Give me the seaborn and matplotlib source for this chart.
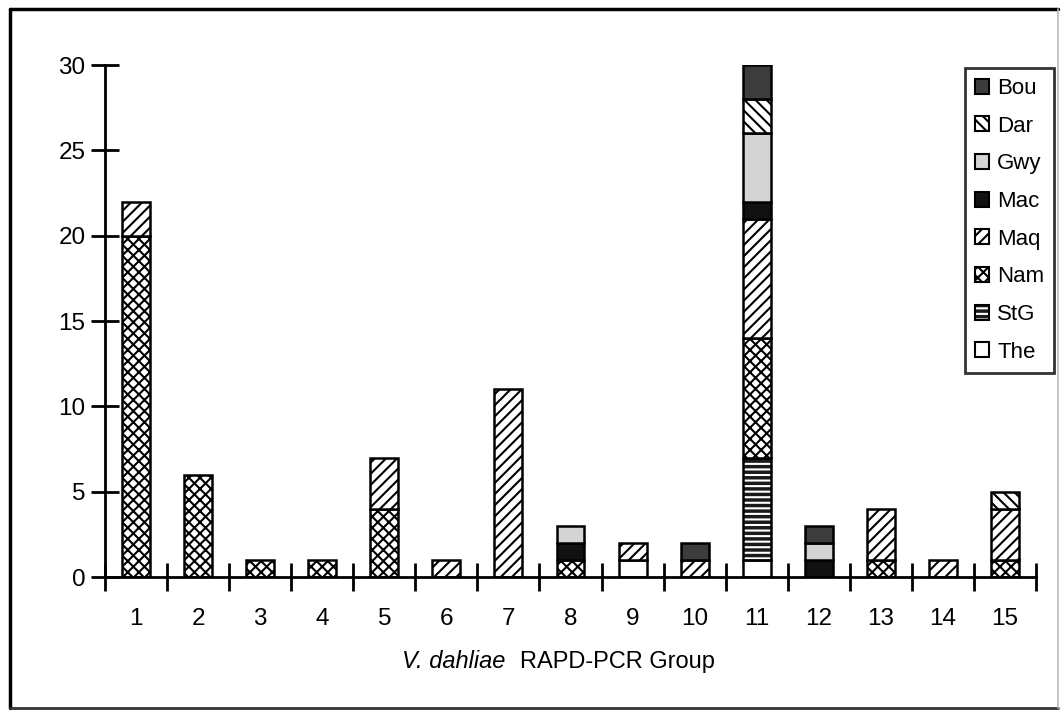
import numpy as np
import pandas as pd
import matplotlib
matplotlib.use("Agg")
import matplotlib.pyplot as plt
import seaborn as sns
from matplotlib.patches import Patch
from matplotlib.lines import Line2D

# ---- data ----
groups = [str(i) for i in range(1, 16)]
legend_order = ["Bou", "Dar", "Gwy", "Mac", "Maq", "Nam", "StG", "The"]
stack_order = ["The", "StG", "Nam", "Maq", "Mac", "Gwy", "Dar", "Bou"]

The = [0, 0, 0, 0, 0, 0, 0, 0, 1, 0, 1, 0, 0, 0, 0]
StG = [0, 0, 0, 0, 0, 0, 0, 0, 0, 0, 6, 0, 0, 0, 0]
Nam = [20, 6, 1, 1, 4, 0, 0, 1, 0, 0, 7, 0, 1, 0, 1]
Maq = [2, 0, 0, 0, 3, 1, 11, 0, 1, 1, 7, 0, 3, 1, 3]
Mac = [0, 0, 0, 0, 0, 0, 0, 1, 0, 0, 1, 1, 0, 0, 0]
Gwy = [0, 0, 0, 0, 0, 0, 0, 1, 0, 0, 4, 1, 0, 0, 0]
Dar = [0, 0, 0, 0, 0, 0, 0, 0, 0, 0, 2, 0, 0, 0, 1]
Bou = [0, 0, 0, 0, 0, 0, 0, 0, 0, 1, 2, 1, 0, 0, 0]

values = {"The": The, "StG": StG, "Nam": Nam, "Maq": Maq,
          "Mac": Mac, "Gwy": Gwy, "Dar": Dar, "Bou": Bou}

# ---- styles ----
styles = {
    "Bou": dict(color="#3c3c3c", hatch=None, hcol=None),
    "Dar": dict(color="white", hatch="\\\\\\", hcol=None),
    "Gwy": dict(color="#d4d4d4", hatch=None, hcol=None),
    "Mac": dict(color="#111111", hatch=None, hcol=None),
    "Maq": dict(color="white", hatch="///", hcol=None),
    "Nam": dict(color="white", hatch="xxx", hcol=None),
    "StG": dict(color="#1a1a1a", hatch="---", hcol=(1, 1, 1, 1)),
    "The": dict(color="white", hatch=None, hcol=None),
}

sns.set_style("white")
plt.rcParams["font.family"] = ["Liberation Sans", "DejaVu Sans"]
plt.rcParams["hatch.linewidth"] = 1.5
plt.rcParams["text.color"] = "black"
plt.rcParams["xtick.labelcolor"] = "black"
plt.rcParams["ytick.labelcolor"] = "black"

fig = plt.figure(figsize=(10.62, 7.12), dpi=100)
ax = fig.add_axes([105 / 1062, 1 - 577 / 712, (1036 - 105) / 1062, (577 - 65) / 712])

bottom = np.zeros(len(groups))
for name in stack_order:
    vals = np.array(values[name], dtype=float)
    st = styles[name]
    n_before = len(ax.patches)
    sns.barplot(x=groups, y=vals, order=groups, bottom=bottom, color=st["color"],
                saturation=1, errorbar=None, width=0.45, edgecolor="black",
                linewidth=1.8, hatch=st["hatch"], ax=ax)
    for p in ax.patches[n_before:]:
        if p.get_height() == 0:
            p.set_visible(False)
        if st["hcol"] is not None:
            p._hatch_color = st["hcol"]
    bottom = bottom + vals

ax.set_ylim(0, 30)
ax.set_xlim(-0.5, 14.5)
ax.set_yticks([0, 5, 10, 15, 20, 25, 30])
ax.set_xticks(range(15))
ax.set_xticklabels(groups)
ax.set_xticks(np.arange(-0.5, 15, 1.0), minor=True)
ax.tick_params(axis="x", which="major", bottom=True, length=0, pad=22, labelsize=17.5,
               labelcolor="black")
ax.tick_params(axis="x", which="minor", bottom=True, direction="inout", length=20,
               width=2, color="black")
ax.tick_params(axis="y", which="major", left=True, direction="inout", length=20, width=2,
               color="black", pad=4, labelsize=17.5, labelcolor="black")
for s in ["top", "right"]:
    ax.spines[s].set_visible(False)
for s in ["left", "bottom"]:
    ax.spines[s].set_linewidth(2)
    ax.spines[s].set_color("black")
ax.set_xlabel("")
ax.set_ylabel("")
ax.patch.set_alpha(0)

# legend
handles = []
for name in legend_order:
    st = styles[name]
    h = Patch(facecolor=st["color"], edgecolor="black", hatch=st["hatch"], linewidth=1.5)
    if st["hcol"] is not None:
        h._hatch_color = st["hcol"]
    handles.append(h)
leg = fig.legend(handles, legend_order, loc="upper left",
                 bbox_to_anchor=(965 / 1062, 1 - 68 / 712), frameon=True,
                 fontsize=16, handlelength=0.65, handleheight=0.65, handletextpad=0.35,
                 labelspacing=0.75, borderpad=0.45, borderaxespad=0, fancybox=False,
                 labelcolor="black")
leg.get_frame().set_edgecolor("black")
leg.get_frame().set_linewidth(2)

# x label (italic part + regular part)
fig.text(505 / 1062, 1 - 662 / 712, "V. dahliae", ha="right", va="center",
         fontsize=17, style="italic", color="black")
fig.text(520 / 1062, 1 - 662 / 712, "RAPD-PCR Group", ha="left", va="center",
         fontsize=17, color="black")

# figure border
W, H = 1062, 712
def fline(x0, y0, x1, y1, color, lw):
    fig.add_artist(Line2D([x0 / W, x1 / W], [1 - y0 / H, 1 - y1 / H],
                          transform=fig.transFigure, color=color, linewidth=lw))
fline(10, 9, 1058, 9, "black", 2.5)
fline(10, 9, 10, 708, "black", 2.5)
fline(10, 708, 1058, 708, "#333333", 2.0)
fline(1058, 9, 1058, 708, "#bbbbbb", 1.2)

fig.savefig("out.png", dpi=100)
